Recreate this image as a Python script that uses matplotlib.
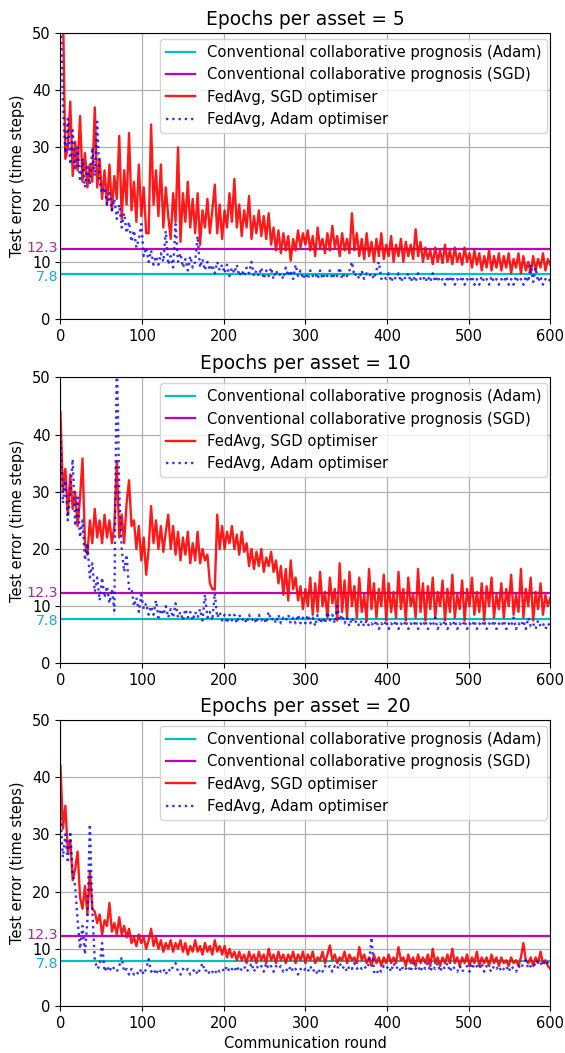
import numpy as np
import matplotlib
matplotlib.use("Agg")
import matplotlib.pyplot as plt
import matplotlib.transforms as mtransforms

# ---------------- data (every 3 rounds) ----------------
rounds = list(range(0, 601, 3))

adam_baseline = 7.8
sgd_baseline = 12.3

e5_sgd = [
    60, 55, 28, 30, 38, 25, 31, 26, 35.5, 24, 29, 23, 27, 24, 37, 23, 28, 21, 26, 20,
    27, 19, 25, 21, 32, 17.5, 26, 20, 32.5, 19, 24, 17, 27, 18, 23, 15, 15, 34, 20, 26,
    18, 27, 16, 23, 18, 14, 22, 17, 30, 13.5, 22, 17, 24, 16, 21, 15, 22, 13, 19, 16,
    21, 15, 19, 23.5, 15, 20, 14, 19, 16, 22, 17, 24.5, 16, 20, 14.5, 19, 16, 21.5, 14, 18,
    15, 19, 14.5, 18, 14, 18.5, 13, 16, 12, 15.5, 11.5, 15, 12, 14.5, 10.2, 14, 12, 15.5, 12.5, 15,
    13, 15.5, 12, 14.5, 11, 16, 12.5, 14, 11.5, 15, 12, 16.3, 12.5, 14.5, 11, 15, 12, 14, 11.5, 18.5,
    12, 15, 11, 14, 10.5, 15, 11, 13.5, 10, 14, 11, 15, 10.5, 13, 11, 14.5, 10, 13, 11, 14,
    10, 13.5, 11, 13, 10.5, 15.7, 11, 13.5, 10, 12.5, 10.5, 12, 9.6, 12.5, 10, 12, 9.8, 13, 10, 12,
    9.6, 12.5, 10, 11.5, 9.5, 12.5, 10, 11.5, 9, 12, 9.5, 11.5, 8.5, 11, 9, 12, 8.5, 11, 9, 11.5,
    8.5, 11, 9, 11.5, 8, 10.5, 9, 11.5, 8, 11, 8.5, 10, 8, 11, 8.5, 10.5, 9, 11.5, 8.5, 10.5,
    9.5]

e5_adam = [
    55, 38, 29, 35, 27, 33, 26, 30, 24, 28, 23, 27, 23.5, 30, 25, 34.5, 24, 22, 23, 20,
    22, 19, 21, 17.5, 20, 16, 18.5, 15, 17, 13.5, 15.5, 12.5, 14, 16.6, 11, 12.5, 10, 12, 9.5, 11,
    9.5, 11.5, 10, 15.4, 9.5, 11, 9, 16.6, 10, 11.5, 9, 10.5, 8.5, 11, 9, 10, 14.5, 9, 10.5, 8.5,
    10, 8.5, 9.5, 8, 10, 8.5, 9.5, 8, 9.5, 7.5, 9, 8, 9.5, 7.5, 8.5, 7.5, 9, 8, 10, 7.5,
    8.5, 7.5, 9, 7, 8.5, 7.5, 9, 7, 8.5, 7.5, 8, 7, 9, 7.5, 8.5, 7, 9.5, 7.5, 8.5, 7,
    8, 7, 8.5, 7.5, 8, 7, 8.5, 7, 8, 7.5, 8.5, 7, 8, 7.5, 9, 7, 8, 7.5, 8.5, 10,
    7.5, 8, 7, 8.5, 7, 8, 7.5, 8, 7, 8.5, 10, 7, 7.5, 7, 8, 6.5, 7.5, 7, 8, 6.5,
    7.5, 7, 8, 6.5, 7.5, 6.5, 8, 7, 7.5, 6.5, 7.5, 6.5, 8, 6.5, 7.5, 6.5, 7, 6, 7.5, 6.5,
    7.5, 6, 7, 6.5, 7.5, 6, 7, 6.5, 7.5, 6, 7, 6, 7.5, 6.5, 7, 6, 7.5, 6.5, 7, 6,
    7, 6.5, 7.5, 6, 7, 6, 7.5, 6.5, 7, 6, 7.5, 6.5, 9.5, 6.5, 9, 6.5, 7.5, 6, 7, 6.5,
    7]

e10_sgd = [
    44, 30, 34, 26, 33, 27, 30, 24, 29, 35.8, 21, 19, 25, 21, 27, 22, 25, 21, 26, 22,
    25, 21, 24, 35.4, 22, 26, 21, 28, 32, 24, 25, 20, 24, 18, 22, 15.5, 20, 27.5, 21, 25,
    20, 24, 19.5, 23, 26, 20, 24, 19, 23, 18, 22, 19, 23, 17.5, 21, 18, 23, 17.5, 20, 18,
    19, 14, 13, 12.9, 26, 20, 24, 20, 23, 21, 24, 20, 22.5, 19, 23, 19.5, 21, 17, 20, 16.5,
    19.5, 17, 20, 16, 18.5, 17, 19.5, 16, 18, 14, 17, 12, 16.5, 11, 18, 13, 15, 11, 13.5, 9.5,
    13, 10, 15, 8.5, 14, 9, 16, 10, 12.5, 8, 15, 10.5, 13, 7.5, 17.5, 9, 14.5, 8, 16, 10,
    13.5, 8, 15, 9, 12, 7.5, 16.5, 9.5, 14, 8, 13, 10, 15.5, 7.5, 14, 9, 12.5, 8, 16, 9.5,
    13, 7.5, 15, 10, 12, 8, 16.5, 9, 14, 7.5, 13.5, 9.5, 15, 8, 12.5, 10, 14.5, 7.5, 13, 9,
    15.5, 8, 12, 9.5, 14.5, 7.5, 13, 10, 15, 8.5, 12.5, 9, 14, 7.5, 13.5, 10, 15, 8, 12, 9.5,
    14, 8, 13, 10, 15.5, 8.5, 12, 9, 16.5, 8, 13, 10, 15, 7.5, 12.5, 9.5, 14, 8.5, 12, 10,
    11.5]

e10_adam = [
    40, 28, 32, 25, 30, 35.7, 24, 29, 22, 25, 18, 21, 15, 17.5, 12.5, 15, 11, 15, 11.5, 13.5,
    10.5, 13, 9.2, 55, 30, 20, 16, 19, 13, 13.2, 10, 11.5, 9, 12, 9.5, 10.5, 8.5, 10, 8.5, 11,
    8, 9.5, 8.5, 10, 8, 9.5, 8, 10.5, 8, 9, 7.5, 9.5, 8, 9, 7.5, 9, 8, 9.5, 7.5, 12,
    8, 9, 7.5, 12.3, 8, 9, 7.5, 8.5, 7, 8.5, 7.5, 8.5, 7, 8.5, 7.5, 8, 7, 8.5, 7.5, 8,
    7, 8.5, 7.5, 8, 7, 9, 7.5, 8, 7, 8.5, 7, 8, 7.5, 8.5, 7, 8, 7, 8.5, 7, 8,
    7, 8.5, 7, 8, 6.5, 8.5, 7, 8, 7, 9, 7.5, 8.5, 7, 10, 7.5, 8.5, 7, 8, 6.5, 8,
    7, 7.5, 6.5, 7.5, 6.5, 7.5, 6.5, 7, 6.5, 7.5, 6, 7, 6.5, 7.5, 6, 7, 6.5, 7.5, 6, 7,
    6.5, 7.5, 6, 7, 6.5, 7.5, 6, 7, 6.5, 7.5, 6, 7, 6.5, 8, 6, 7, 6.5, 7.5, 6, 7,
    6.5, 7.5, 6, 7, 6.5, 7.5, 6, 7, 6.5, 7.5, 6, 7, 6.5, 7.5, 6, 7, 6.5, 7.5, 6, 7,
    6.5, 7.5, 6, 7, 6.5, 8, 6, 7, 6.5, 7.5, 6, 8, 6.5, 7, 6, 7.5, 6.5, 7, 6, 7,
    6.5]

e20_sgd = [
    42, 31, 35, 27, 29, 22, 24, 27, 19, 17, 21, 16, 23.5, 17, 16.5, 14.5, 16, 12.5, 15, 14,
    18, 13, 14.5, 12.5, 15.5, 12.5, 14, 12, 13.5, 11, 12, 10.5, 12.5, 11, 12, 10, 11.5, 13.5, 10.5, 12,
    10, 11.5, 9.5, 11, 10, 11.5, 9.5, 11, 10, 11.5, 9.5, 11, 9, 10.5, 9.5, 11.5, 9.5, 10.5, 9, 11,
    9.5, 10.5, 9, 11.5, 9.5, 10.5, 9, 10.5, 8.5, 10, 8.5, 9.5, 8, 9.5, 8, 9, 7.5, 9.5, 8, 9,
    7.5, 9.5, 8, 9, 7.5, 10, 8, 9, 7.5, 9.5, 8, 9, 7.5, 9, 8, 9.5, 7.5, 9, 8, 9.5,
    7.5, 9, 8, 9.5, 7.5, 8.5, 8, 9.5, 7.5, 9, 10.6, 8, 9, 7.5, 8.5, 8, 9.5, 7.5, 9, 8,
    8.5, 7.5, 10.3, 8, 9, 7.5, 8.5, 7, 9, 7.5, 8.5, 7, 8.5, 7.5, 9, 7.5, 8.5, 7.5, 10.3, 8,
    8.5, 7, 9, 7.5, 8.5, 7, 9, 7.5, 8.5, 7.5, 9, 7, 10, 7.5, 8.5, 7, 8.5, 7.5, 9, 7.5,
    10, 7.5, 8.5, 7, 8.5, 7.5, 9, 7, 8.5, 7.5, 9.5, 7, 8.5, 7.5, 8.5, 7, 9, 7.5, 8.5, 7,
    8.5, 7.5, 8, 7, 8.5, 7.5, 8, 7, 8.5, 11, 8, 7.5, 8.5, 7, 8.5, 7.5, 9.5, 7.5, 8, 7,
    6.5]

e20_adam = [
    33, 26, 30, 25, 30.5, 23, 21, 15, 10, 14, 9, 15, 31.8, 17, 8, 6.5, 7, 11, 6, 7,
    6, 7, 6.5, 6, 7, 8.5, 6, 6.5, 5.5, 6.5, 5.5, 6, 5.5, 6.5, 5.5, 6.5, 8.2, 6, 6.5, 5.5,
    6.5, 6, 6.5, 5.5, 6.5, 6, 7, 7.5, 6, 5.5, 6.5, 6, 6.5, 5.5, 6, 6.5, 5.5, 6.5, 7.5, 6,
    6.5, 5.5, 6, 5.5, 6.5, 6, 6.5, 6, 7, 6, 6.5, 6, 7, 6, 6.5, 7, 6, 6.5, 7.5, 6,
    7, 6.5, 7, 6, 7.5, 6.5, 7, 6, 7, 6.5, 7, 6, 6.5, 6, 7, 6, 6.5, 5.5, 6.5, 6,
    6.5, 6, 7, 6, 6.5, 5.5, 6.5, 6, 7, 6.5, 7, 6, 7, 6.5, 7.5, 6.5, 7, 6, 7, 6.5,
    7.5, 6.5, 7, 6.5, 7, 6.5, 7.5, 12, 6, 5.5, 6.5, 6, 7, 6.5, 7, 6, 7.5, 6.5, 7, 6,
    7, 6.5, 7, 6, 7.5, 6.5, 7, 6, 7, 6.5, 7.5, 6, 7, 6.5, 7.5, 6, 7, 6.5, 7.5, 6,
    7, 6.5, 6, 7, 6, 6.5, 7, 6, 7.5, 6.5, 7, 6.5, 7.5, 6, 7, 6.5, 6, 7, 6.5, 7,
    6, 6.5, 7, 6, 7, 6.5, 6, 7, 6.5, 7.5, 8, 6.5, 7, 7.5, 7, 8, 7.5, 7, 8, 7.5,
    7]

epochs = [5, 10, 20]
sgd_runs = [e5_sgd, e10_sgd, e20_sgd]
adam_runs = [e5_adam, e10_adam, e20_adam]
for s in sgd_runs + adam_runs:
    assert len(s) == len(rounds), len(s)

legend_labels = ["Conventional collaborative prognosis (Adam)",
                 "Conventional collaborative prognosis (SGD)",
                 "FedAvg, SGD optimiser",
                 "FedAvg, Adam optimiser"]

x_ticks = [0, 100, 200, 300, 400, 500, 600]
y_ticks = [0, 10, 20, 30, 40, 50]

# ---------------- figure ----------------
plt.rcParams['font.family'] = ['DejaVu Sans']
fig = plt.figure(figsize=(5.65, 10.53), dpi=100)

left, width, height = 0.107, 0.867, 0.2717
bottoms = [0.697, 0.370, 0.0446]

for k, (ep, sgd, adam) in enumerate(zip(epochs, sgd_runs, adam_runs)):
    ax = fig.add_axes([left, bottoms[k], width, height])
    ax.axhline(adam_baseline, color='c', lw=1.6, label=legend_labels[0])
    ax.axhline(sgd_baseline, color='m', lw=1.6, label=legend_labels[1])
    ax.plot(rounds, sgd, color='red', lw=1.7, alpha=0.9, label=legend_labels[2])
    ax.plot(rounds, adam, 'b:', lw=1.7, alpha=0.8, label=legend_labels[3])
    ax.set_xlim(0, 600)
    ax.set_ylim(0, 50)
    ax.set_xticks(x_ticks)
    ax.set_yticks(y_ticks)
    ax.grid(True, color='#b0b0b0', lw=0.9)
    ax.set_axisbelow(True)
    ax.set_title(f"Epochs per asset = {ep}", fontsize=13.4)
    ax.set_ylabel("Test error (time steps)", fontsize=10.5)
    ax.yaxis.set_label_coords(-0.072, 0.5)
    ax.tick_params(labelsize=10.5)
    trans = mtransforms.blended_transform_factory(ax.transAxes, ax.transData)
    off_hi = mtransforms.ScaledTranslation(-1.5 / 72, 0.3 / 72, fig.dpi_scale_trans)
    off_lo = mtransforms.ScaledTranslation(-1.5 / 72, -1.8 / 72, fig.dpi_scale_trans)
    ax.text(0, sgd_baseline, "12.3", transform=trans + off_hi, ha='right', va='center',
            color='#a02ca0', fontsize=10.3)
    ax.text(0, adam_baseline, "7.8", transform=trans + off_lo, ha='right', va='center',
            color='#1ca8e0', fontsize=10.3)
    ax.legend(loc='upper right', fontsize=10.6, bbox_to_anchor=(0.994, 0.979),
              borderaxespad=0)
    if k == 2:
        ax.set_xlabel("Communication round", fontsize=10.5)

fig.savefig("out.png", dpi=100)
